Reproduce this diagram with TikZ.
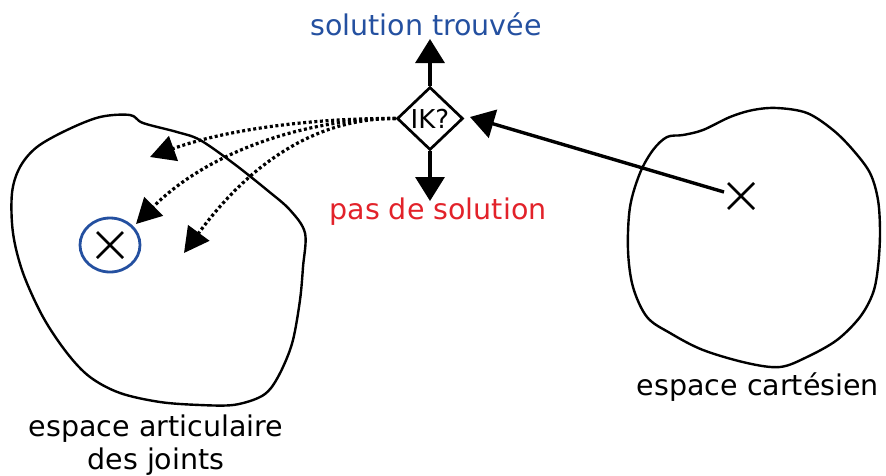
\documentclass[tikz,border=0pt]{standalone}
\usepackage{fontspec}
\setmainfont{DejaVu Sans}
\usetikzlibrary{arrows.meta,shapes.geometric}
\definecolor{solblue}{RGB}{36,80,160}
\definecolor{solred}{RGB}{226,34,42}
\tikzset{
  outline/.style={line width=2.4pt, line join=round},
  bigtext/.style={font=\fontsize{28.5}{34}\selectfont, inner sep=0pt},
  solidarrow/.style={line width=3.4pt, -{Triangle[length=24pt,width=29pt]}},
  dotarrow/.style={line width=3.2pt, dash pattern=on 3pt off 2.6pt, -{Triangle[length=25pt,width=26pt]}},
  crossmark/.style={line width=2.6pt}
}
\begin{document}
\begin{tikzpicture}[x=1pt,y=-1pt]
\useasboundingbox (0,0) rectangle (886,475);
% left blob (joint space)
\draw[outline] plot[smooth cycle, tension=0.55] coordinates {
 (130,115) (143,123) (177,132) (200,140) (233,163) (267,190) (290,210) (305,233)
 (303,267) (300,300) (293,340) (283,367) (271,388) (258,398) (233,405) (200,405)
 (160,402) (120,393) (90,377) (67,353) (43,317) (23,273) (13,233) (12,193)
 (20,167) (37,147) (67,130) (100,117)};
% right blob (cartesian space)
\draw[outline] plot[smooth cycle, tension=0.55] coordinates {
 (777,108) (807,113) (833,130) (853,150) (870,173) (878,200) (880,233) (878,267)
 (873,293) (860,317) (837,340) (807,357) (780,367) (747,363) (703,350) (670,333)
 (647,317) (633,287) (628,250) (630,207) (640,173) (653,150) (667,137) (683,135)
 (703,130) (730,117) (753,110)};
% blue circle with cross
\node[draw=solblue, line width=2.8pt, ellipse, minimum width=60pt, minimum height=54pt, inner sep=0pt] (sol) at (110,245) {};
\draw[crossmark] (97,232) -- (123,258) (123,232) -- (97,258);
% target cross
\coordinate (tgt) at (741,196);
\draw[crossmark] (728,183) -- (754,209) (754,183) -- (728,209);
\coordinate (tgtl) at (724,192);
% IK diamond
\node[draw, diamond, line width=2.7pt, minimum width=66pt, minimum height=63pt, inner sep=0pt,
  font=\fontsize{26}{30}\selectfont] (ik) at (430,118.5) {IK?};
% labels
\node[bigtext, text=solblue] (found) at (426,24) {solution trouvée};
\node[bigtext, text=solred] (nosol) at (438,212) {pas de solution};
\node[bigtext] (cart) at (758,387) {espace cartésien};
\node[bigtext, align=center, font=\fontsize{28.5}{33}\selectfont] (joint) at (156,445) {espace articulaire\\des joints};
% arrow tips
\coordinate (upTip) at (430,39);
\coordinate (downTip) at (430,201);
\coordinate (ikTip) at (470,117);
\coordinate (t1) at (150,157);
\coordinate (t2) at (136,224);
\coordinate (t3) at (184,253);
% connectors
\draw[solidarrow] (ik.north) -- (upTip);
\draw[solidarrow] (ik.south) -- (downTip);
\draw[solidarrow] (tgtl) -- (ikTip);
\draw[dotarrow] (ik.west) .. controls (320,118) and (230,128) .. (t1);
\draw[dotarrow] (ik.west) .. controls (320,118) and (215,145) .. (t2);
\draw[dotarrow] (ik.west) .. controls (310,118) and (245,170) .. (t3);
\end{tikzpicture}
\end{document}
